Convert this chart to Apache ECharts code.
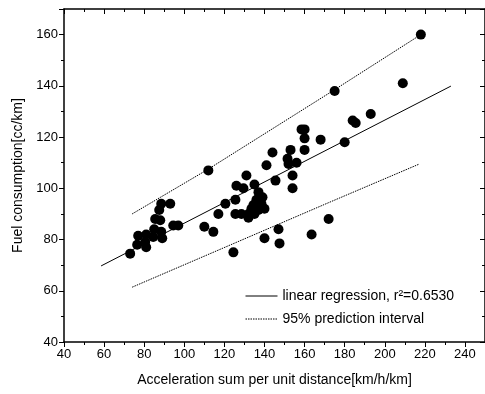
<!DOCTYPE html>
<html>
<head>
<meta charset="utf-8">
<script src="https://cdn.jsdelivr.net/npm/echarts@6/dist/echarts.min.js"></script>
<style>
  html, body { margin: 0; padding: 0; background: #fff; }
  #chart { width: 485px; height: 394px; }
</style>
</head>
<body>
<div id="chart"></div>
<script>
// measured points [acceleration sum, fuel consumption]
const points = [
    [218, 160], [209, 141], [175, 138], [184, 126.5], [185.5, 125.5], [193, 129],
    [180, 118], [168, 119], [158.5, 123], [160, 123], [160, 119.5], [160, 115],
    [153, 115], [144, 114], [141, 109], [151.5, 111.5], [152, 109.5], [156, 110],
    [145.5, 103], [154, 105], [154, 100], [131, 105], [126, 101], [129.5, 100],
    [135, 101.5], [137, 98.5], [136, 95.5], [134.5, 93.5], [138.5, 94], [140, 92],
    [137, 91.5], [133.5, 92], [132, 90], [128.5, 90], [125.5, 90], [132, 88.5],
    [125.5, 95.5], [120.5, 94], [117, 90], [135, 90], [139, 96.5], [112, 107],
    [172, 88], [163.5, 82], [147, 84], [147.5, 78.5], [140, 80.5], [124.5, 75],
    [114.5, 83], [110, 85], [88.5, 94], [93, 94], [87.5, 91.5], [85.5, 88],
    [88, 87.5], [94.5, 85.5], [97, 85.5], [85, 84], [88.5, 83], [81, 82],
    [77, 81.5], [84.5, 81], [89, 80.5], [76.5, 78], [80.5, 79], [81, 77], [73, 74.5]
]

// lines
const regressionLine = [[58.5, 69.7], [233, 139.9]]
const upperInterval = [[74, 90], [112, 107.5], [175, 138.5], [218, 160]]
const lowerInterval = [[74, 61.4], [172, 94.4], [217, 109.4]]

const xTicks = { min: 40, max: 250, interval: 20 }
const yTicks = { min: 40, max: 170, interval: 20 }

const regName = 'linear regression, r\u00b2=0.6530'
const piName = '95% prediction interval'

const font = 'Liberation Sans, Arial, sans-serif'
const axisLine = { show: true, onZero: false, lineStyle: { color: '#000', width: 1.5 } }

function mirrorAxis(base) {
    return Object.assign({}, base, {
        axisLine: axisLine,
        axisTick: { inside: true, length: 5, lineStyle: { color: '#000' } },
        minorTick: { show: true, splitNumber: 2, length: 3, lineStyle: { color: '#000' } },
        axisLabel: { show: false },
        splitLine: { show: false }
    })
}

function mainAxis(base, name, gap) {
    return Object.assign({}, base, {
        name: name,
        nameLocation: 'middle',
        nameGap: gap,
        nameTextStyle: { color: '#000', fontSize: 14, fontFamily: font },
        axisLine: axisLine,
        axisTick: { inside: false, length: 5, lineStyle: { color: '#000' } },
        minorTick: { show: true, splitNumber: 2, length: 3, lineStyle: { color: '#000' } },
        axisLabel: { color: '#000', fontSize: 13, fontFamily: font, margin: 6, showMaxLabel: false },
        splitLine: { show: false }
    })
}

const option = {
    animation: false,
    backgroundColor: '#fff',
    grid: { left: 64, right: 0, top: 9, bottom: 52 },
    xAxis: [
        mainAxis(Object.assign({ type: 'value', position: 'bottom' }, xTicks), 'Acceleration sum per unit distance[km/h/km]', 31),
        mirrorAxis(Object.assign({ type: 'value', position: 'top' }, xTicks))
    ],
    yAxis: [
        mainAxis(Object.assign({ type: 'value', position: 'left' }, yTicks), 'Fuel consumption[cc/km]', 37),
        mirrorAxis(Object.assign({ type: 'value', position: 'right' }, yTicks))
    ],
    legend: {
        orient: 'vertical',
        left: 240,
        top: 284,
        itemWidth: 32,
        itemHeight: 14,
        itemGap: 9,
        itemStyle: { opacity: 0 },
        lineStyle: { width: 1 },
        textStyle: { color: '#000', fontSize: 14, fontFamily: font },
        data: [regName, piName]
    },
    series: [
        {
            type: 'scatter',
            data: points,
            symbolSize: 10,
            itemStyle: { color: '#000', opacity: 1 }
        },
        {
            name: regName,
            type: 'line',
            data: regressionLine,
            symbol: 'none',
            itemStyle: { color: '#000' },
            lineStyle: { color: '#000', width: 1 }
        },
        {
            name: piName,
            type: 'line',
            data: upperInterval,
            symbol: 'none',
            itemStyle: { color: '#000' },
            lineStyle: { color: '#000', width: 1, type: [1.5, 1] }
        },
        {
            name: piName,
            type: 'line',
            data: lowerInterval,
            symbol: 'none',
            itemStyle: { color: '#000' },
            lineStyle: { color: '#000', width: 1, type: [1.5, 1] }
        }
    ]
}

const chart = echarts.init(document.getElementById('chart'))
chart.setOption(option)
</script>
</body>
</html>
